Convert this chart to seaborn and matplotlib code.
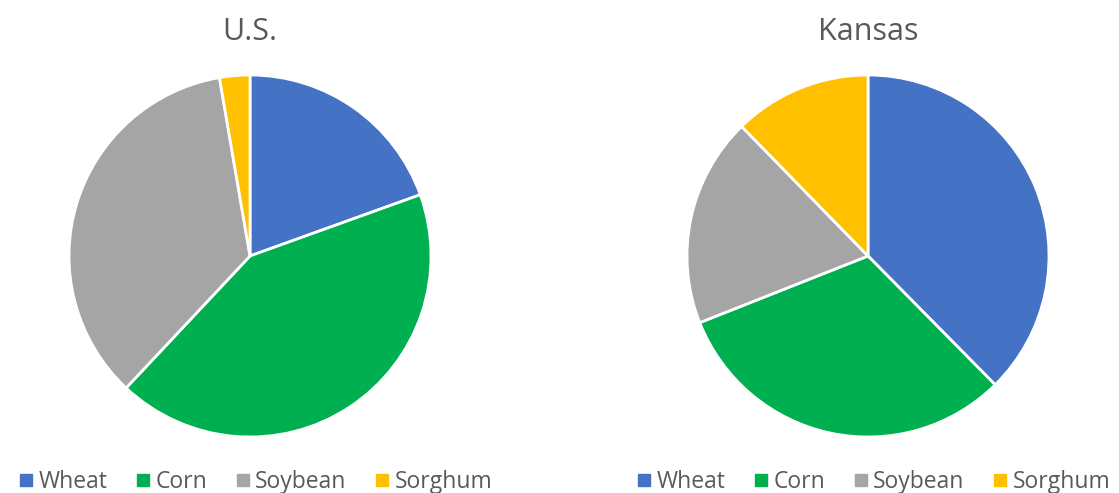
import matplotlib
matplotlib.use("Agg")
import matplotlib.pyplot as plt
from matplotlib.lines import Line2D
import seaborn as sns

sns.set_theme(style="white")
plt.rcParams["font.family"] = ["Open Sans", "DejaVu Sans"]

crops = ["Wheat", "Corn", "Soybean", "Sorghum"]
us_share = [19.5, 42.5, 35.3, 2.7]
kansas_share = [37.6, 31.4, 18.7, 12.3]
colors = ["#4472C4", "#00B050", "#A5A5A5", "#FFC000"]
text_color = "#595959"

fig = plt.figure(figsize=(11.19, 4.93), dpi=100)

panels = [
    ("U.S.", us_share, 69, 250),
    ("Kansas", kansas_share, 687, 868),
]

for title, values, left_px, center_px in panels:
    ax = fig.add_axes([left_px / 1119, 56 / 493, 362 / 1119, 362 / 493])
    ax.pie(
        values,
        colors=colors,
        startangle=90,
        counterclock=False,
        radius=1.0,
        wedgeprops=dict(edgecolor="white", linewidth=2),
    )
    ax.set_xlim(-1, 1)
    ax.set_ylim(-1, 1)
    ax.set_aspect("equal")
    fig.text(center_px / 1119, 1 - 32 / 493, title, ha="center", va="center",
             fontsize=22, color=text_color)

    handles = [Line2D([], [], marker="s", linestyle="", markersize=8,
                      markerfacecolor=c, markeredgecolor=c) for c in colors]
    fig.legend(handles, crops, loc="center",
               bbox_to_anchor=((center_px + 5) / 1119, 1 - 482 / 493),
               ncol=4, frameon=False, fontsize=16.5, labelcolor=text_color,
               handletextpad=0.2, columnspacing=1.2, handlelength=0.7)

fig.savefig("out.png", dpi=100)
